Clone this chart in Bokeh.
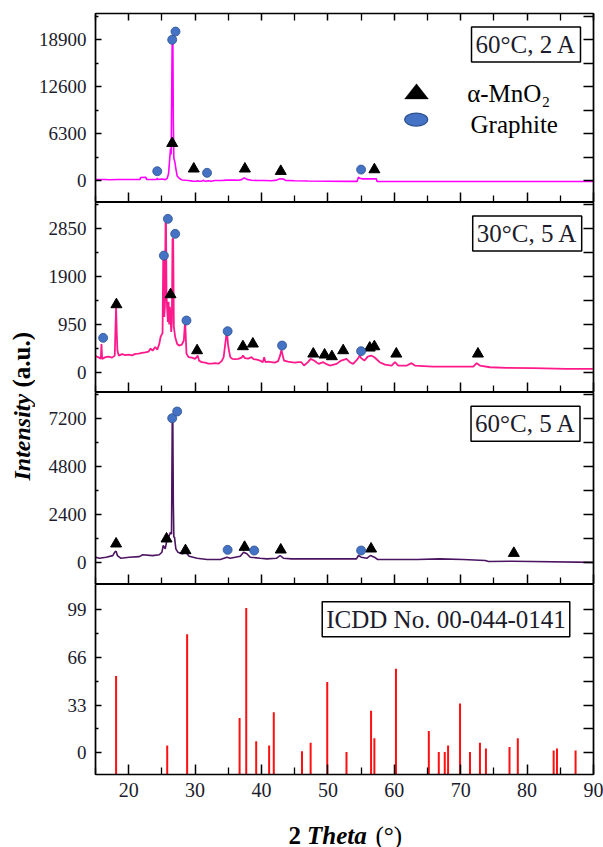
from bokeh.plotting import figure
from bokeh.layouts import column, row
from bokeh.models import Range1d, LinearAxis, FixedTicker, Label, PolyAnnotation
from bokeh.embed import file_html
from bokeh.resources import INLINE

FONT = "Liberation Serif"
TXT = "#1c1c2c"

# ---------------- data ----------------
x_ticks = [20, 30, 40, 50, 60, 70, 80, 90]
x_minor = [15, 25, 35, 45, 55, 65, 75, 85]

# Panel 1: 60 C, 2 A
p1_x = [15.0, 16.5, 17.0, 18.5, 20.0, 21.7, 21.8, 22.6, 22.7, 23.5, 24.2, 24.3, 24.4, 25.0, 25.5,
        25.8, 26.0, 26.15, 26.3, 26.4, 26.48, 26.55, 26.65, 26.72, 26.8, 26.95, 27.1, 27.3, 27.6,
        28.0, 28.6, 29.0, 29.6, 30.2, 30.4, 30.6, 31.0, 31.2, 31.4, 31.6, 32.0, 32.4, 33.0, 34.0,
        34.8, 35.8, 36.5, 37.0, 37.4, 37.8, 38.5, 39.5, 40.5, 41.5, 42.3, 42.7, 43.3, 43.6, 45.0,
        47.0, 50.0, 53.0, 54.4, 54.6, 54.8, 55.2, 56.5, 57.3, 57.4, 60.0, 65.0, 70.0, 75.0, 80.0,
        85.0, 90.0]
p1_y = [130, 130, 100, 130, 130, 130, 400, 420, 150, 130, 150, 320, 140, 200, 120,
        300, 900, 2600, 4300, 3500, 12000, 18900, 18900, 8000, 3000, 2500, 1600, 600, 300,
        80, 30, 0, -80, -90, -40, -100, -90, 30, -60, -100, -20, -100, 0, 0,
        60, 80, 40, 120, 360, 150, 40, 0, 0, -20, 60, 220, 200, 20, -30,
        -60, -90, -110, -120, 440, 300, 220, 230, 220, -130, -130, -135, -135, -135, -135,
        -135, -135]
p1_tri_x = [26.55, 29.8, 37.5, 42.9, 57.0]
p1_tri_y = [5000, 1570, 1570, 1250, 1470]
p1_cir_x = [24.3, 26.55, 27.05, 31.8, 55.0]
p1_cir_y = [1250, 18900, 20000, 1030, 1470]

# Panel 2: 30 C, 5 A
p2_x = [15.0, 15.4, 15.8, 15.9, 16.0, 16.5, 17.0, 17.5, 17.9, 18.0, 18.1, 18.2, 18.3, 18.5, 19.0,
        19.5, 20.0, 20.5, 21.0, 21.5, 22.0, 22.5, 23.0, 23.3, 23.6, 24.0, 24.3, 24.6, 24.8, 25.1,
        25.2, 25.3, 25.35, 25.45, 25.55, 25.62, 25.7, 25.8, 25.9, 26.0, 26.1, 26.2, 26.3, 26.4,
        26.5, 26.6, 26.7, 26.8, 27.0, 27.3, 27.6, 28.0, 28.3, 28.5, 28.6, 28.7, 29.0, 29.5, 30.0,
        30.4, 30.6, 31.0, 31.5, 32.0, 32.5, 33.0, 33.5, 34.0, 34.3, 34.6, 34.8, 34.95, 35.1, 35.3,
        35.6, 36.0, 36.5, 37.0, 37.2, 37.5, 38.0, 38.5, 38.8, 39.3, 39.8, 40.2, 40.4, 40.6, 41.0,
        41.5, 42.0, 42.5, 42.8, 43.0, 43.2, 43.4, 44.0, 44.5, 45.0, 45.6, 46.0, 46.4, 47.0, 47.4,
        47.9, 48.6, 49.3, 49.8, 50.3, 51.3, 52.0, 52.8, 53.3, 53.8, 54.5, 54.8, 55.0, 55.5, 56.0,
        56.5, 57.0, 57.8, 58.6, 59.6, 60.1, 60.6, 61.9, 62.6, 63.1, 65.8, 68.4, 71.9, 72.4, 72.9,
        74.4, 76.9, 80.9, 85.9, 89.9]
p2_y = [318, 300, 270, 560, 265, 300, 310, 290, 330, 830, 1290, 800, 430, 330, 360,
        340, 350, 335, 365, 370, 385, 395, 410, 470, 430, 500, 450, 560, 700, 780,
        2300, 2300, 1100, 1300, 2980, 2980, 1500, 1250, 1000, 1400, 950, 1300, 1100, 800,
        1000, 2650, 2650, 900, 700, 560, 530, 550, 630, 1030, 700, 370, 300, 290, 265,
        330, 230, 200, 190, 170, 170, 180, 170, 220, 300, 630, 830, 560, 430, 300,
        265, 260, 265, 290, 330, 280, 270, 300, 260, 250, 230, 200, 300, 200, 210,
        200, 190, 220, 330, 445, 330, 230, 210, 200, 190, 200, 199, 133, 200, 265,
        232, 166, 199, 160, 133, 166, 232, 265, 199, 166, 265, 331, 280, 232, 310,
        331, 298, 199, 150, 133, 199, 133, 133, 180, 133, 113, 113, 113, 180, 133,
        99, 86, 80, 66, 66]
p2_tri_x = [18.15, 26.3, 30.3, 37.2, 38.7, 47.8, 49.5, 50.6, 52.3, 56.3, 57.0, 60.3, 72.6]
p2_tri_y = [1345, 1544, 431, 511, 564, 365, 345, 312, 431, 484, 510, 365, 365]
p2_cir_x = [16.15, 25.3, 25.9, 27.0, 28.7, 34.9, 43.1, 55.0]
p2_cir_y = [683, 2318, 3048, 2750, 1027, 815, 530, 418]

# Panel 3: 60 C, 5 A
p3_x = [15.0, 15.6, 16.6, 17.6, 17.9, 18.1, 18.3, 18.8, 20.1, 21.6, 22.1, 23.6, 24.6, 25.0, 25.2,
        25.5, 25.7, 26.0, 26.3, 26.45, 26.5, 26.56, 26.64, 26.72, 26.8, 26.9, 27.1, 27.4, 28.1,
        28.6, 29.1, 30.3, 31.8, 33.8, 34.8, 35.3, 36.8, 37.3, 37.8, 38.3, 39.8, 40.8, 42.3, 42.8,
        43.3, 44.5, 45.9, 51.0, 54.3, 54.6, 55.0, 55.9, 56.4, 57.0, 57.5, 63.4, 66.8, 70.4, 73.7,
        74.2, 77.7, 80.7, 89.9]
p3_y = [250, 200, 250, 330, 500, 550, 330, 200, 250, 280, 370, 330, 370, 500, 835,
        670, 1000, 1250, 1500, 1400, 4000, 7170, 7170, 3000, 1250, 1250, 670, 500, 420,
        500, 300, 200, 135, 135, 250, 200, 300, 500, 420, 250, 200, 168, 200, 335,
        200, 168, 168, 168, 168, 335, 250, 200, 335, 250, 135, 135, 168, 135, 85,
        35, 50, 35, -7]
p3_tri_x = [18.1, 25.7, 28.55, 37.45, 42.9, 56.5, 78.0]
p3_tri_y = [920, 1170, 585, 752, 618, 668, 450]
p3_cir_x = [26.55, 27.3, 34.9, 38.9, 55.0]
p3_cir_y = [7200, 7535, 618, 585, 585]

# Panel 4: ICDD No. 00-044-0141 reference lines
icdd_x = [18.1, 25.8, 28.8, 36.7, 37.7, 39.2, 41.15, 41.85, 46.1, 47.4, 49.9, 52.8, 56.5, 57.0,
          60.25, 65.2, 66.7, 67.6, 68.1, 69.9, 71.4, 72.9, 73.8, 77.35, 78.6, 84.0, 84.5, 87.3]
icdd_I = [53, 5, 82, 24, 100, 8, 5, 28, 1, 7, 49, 0.5, 29, 10,
          58, 15, 0.5, 0.5, 5, 34, 0.5, 7, 3, 4, 10, 1.5, 3, 1.5]

panel_labels = ["60°C, 2 A", "30°C, 5 A", "60°C, 5 A", "ICDD No. 00-044-0141"]
y_ranges = [(-2950, 22425), (-403, 3373), (-1115, 8485), (-15, 116.3)]
y_ticks = [[0, 6300, 12600, 18900], [0, 950, 1900, 2850], [0, 2400, 4800, 7200], [0, 33, 66, 99]]
y_minor = [[3150, 9450, 15750, 22050], [475, 1425, 2375, 3325], [1200, 3600, 6000, 8400],
           [16.5, 49.5, 82.5]]

# ---------------- layout constants ----------------
YLAB_W = 35            # width of strip holding the y title
PANEL_W = 603 - YLAB_W
FRAME_L = 95           # frame left edge on the page
LEFT_B = FRAME_L - YLAB_W


def style_axis(ax, ticks, minor, tin, mtin, show, size="19px", standoff=9):
    ax.ticker = FixedTicker(ticks=ticks, minor_ticks=minor)
    ax.major_tick_in = tin
    ax.major_tick_out = 0
    ax.minor_tick_in = mtin
    ax.minor_tick_out = 0
    ax.axis_line_width = 1.6
    ax.axis_line_color = "black"
    ax.major_tick_line_width = 1.5
    ax.minor_tick_line_width = 1.3
    ax.major_tick_line_color = "black"
    ax.minor_tick_line_color = "black"
    if show:
        ax.major_label_text_font = FONT
        ax.major_label_text_font_size = size
        ax.major_label_text_color = TXT
        ax.major_label_standoff = standoff
    else:
        ax.major_label_text_font_size = "0px"
        ax.major_label_text_color = None
        ax.major_label_standoff = 0


def make_panel(i, height, top_b, bot_b):
    p = figure(width=PANEL_W, height=height, x_range=Range1d(15, 90),
               y_range=Range1d(*y_ranges[i]), output_backend="svg", toolbar_location=None,
               x_axis_location=None, y_axis_location=None, min_border=0,
               min_border_left=LEFT_B, min_border_right=10,
               min_border_top=top_b, min_border_bottom=bot_b)
    p.xgrid.visible = False
    p.ygrid.visible = False
    p.outline_line_color = "black"
    p.outline_line_width = 1.2
    p.background_fill_color = "white"
    p.border_fill_color = "white"

    left = LinearAxis()
    style_axis(left, y_ticks[i], y_minor[i], 6, 3, True)
    p.add_layout(left, "left")
    right = LinearAxis()
    style_axis(right, y_ticks[i], y_minor[i], 10, 10, False)
    p.add_layout(right, "right")
    below = LinearAxis()
    style_axis(below, x_ticks, x_minor, 10, 7, i == 3, size="20px", standoff=8)
    p.add_layout(below, "below")
    if i == 0:
        above = LinearAxis()
        style_axis(above, x_ticks, x_minor, 7, 7, False)
        p.add_layout(above, "above")
    return p


p1 = make_panel(0, 202, 13, 0)
p2 = make_panel(1, 190, 0, 0)
p3 = make_panel(2, 192, 0, 0)
p4 = make_panel(3, 230, 0, 40)

BLUE = "#4472c4"
BLUE_EDGE = "#2f528f"

for p, xs, ys, col, lw, tx, ty, cx, cy in [
    (p1, p1_x, p1_y, "#ff00ff", 1.6, p1_tri_x, p1_tri_y, p1_cir_x, p1_cir_y),
    (p2, p2_x, p2_y, "#ff1a8c", 1.8, p2_tri_x, p2_tri_y, p2_cir_x, p2_cir_y),
    (p3, p3_x, p3_y, "#4b1460", 1.6, p3_tri_x, p3_tri_y, p3_cir_x, p3_cir_y),
]:
    p.line(xs, ys, line_color=col, line_width=lw)
    p.scatter(tx, ty, marker="triangle", size=11, fill_color="black", line_color="black")
    p.scatter(cx, cy, marker="circle", size=9, fill_color=BLUE, line_color=BLUE_EDGE, line_width=0.8)

p4.segment(x0=icdd_x, y0=[y_ranges[3][0]] * len(icdd_x), x1=icdd_x, y1=icdd_I,
           line_color="#ff1010", line_width=2)

# panel boxes (screen position relative to frame bottom-left)
box_pos = [(430.5, 158), (431.7, 159), (430, 160.7), (350.5, 155.3)]
for p, txt, (bx, by) in zip([p1, p2, p3, p4], panel_labels, box_pos):
    p.add_layout(Label(x=bx, y=by, x_units="screen", y_units="screen", text=txt,
                       text_font=FONT, text_font_size="25px", text_color=TXT,
                       text_align="center", text_baseline="middle",
                       border_line_color="black", border_line_width=1.5,
                       background_fill_color="white", padding=4))

# legend in panel 1
p1.add_layout(PolyAnnotation(xs=[309, 333, 321], ys=[103.5, 103.5, 118.7], xs_units="screen",
                             ys_units="screen", fill_color="black", fill_alpha=1,
                             line_color="black", line_width=1))
p1.ellipse(x=[63.3], y=[8180], width=23, height=13, width_units="screen", height_units="screen",
           fill_color=BLUE, line_color=BLUE_EDGE, line_width=1.2)
p1.add_layout(Label(x=371.7, y=108.8, x_units="screen", y_units="screen", text="α-MnO₂",
                    text_font=FONT, text_font_size="25px", text_color="black",
                    text_align="left", text_baseline="middle"))
p1.add_layout(Label(x=375, y=78, x_units="screen", y_units="screen", text="Graphite",
                    text_font=FONT, text_font_size="25px", text_color="black",
                    text_align="left", text_baseline="middle"))


def blank_fig(w, h, left_b=0):
    f = figure(width=w, height=h, output_backend="svg", toolbar_location=None,
               x_axis_location=None, y_axis_location=None, min_border=0,
               min_border_left=left_b, min_border_right=0)
    f.xgrid.visible = False
    f.ygrid.visible = False
    f.outline_line_color = None
    f.background_fill_color = "white"
    f.border_fill_color = "white"
    return f


# x axis title strip (mixed styles); its frame lines up with the panels' frames
XT_H = 33
xt = blank_fig(PANEL_W, XT_H, left_b=LEFT_B)
for txt, px, style in [("2", 288, "bold"), ("Theta", 306.5, "bold italic"), ("(°)", 375, "normal")]:
    xt.add_layout(Label(x=px - FRAME_L, y=12.5, x_units="screen", y_units="screen", text=txt,
                        text_font=FONT, text_font_size="25px", text_font_style=style,
                        text_color="black", text_align="left", text_baseline="middle"))

# y axis title strip (mixed styles)
yt = blank_fig(YLAB_W, 847)
yt.add_layout(Label(x=21.3, y=847 - 480, x_units="screen", y_units="screen", text="Intensity",
                    text_font=FONT, text_font_size="24px", text_font_style="bold italic",
                    text_color="black", text_align="left", text_baseline="middle",
                    angle=1.5708))
yt.add_layout(Label(x=21.0, y=847 - 387, x_units="screen", y_units="screen", text="(a.u.)",
                    text_font=FONT, text_font_size="25px", text_font_style="bold",
                    text_color="black", text_align="left", text_baseline="middle",
                    angle=1.5708))

layout = row(yt, column(p1, p2, p3, p4, xt, spacing=0), spacing=0)
open("out.html", "w").write(file_html(layout, INLINE))
